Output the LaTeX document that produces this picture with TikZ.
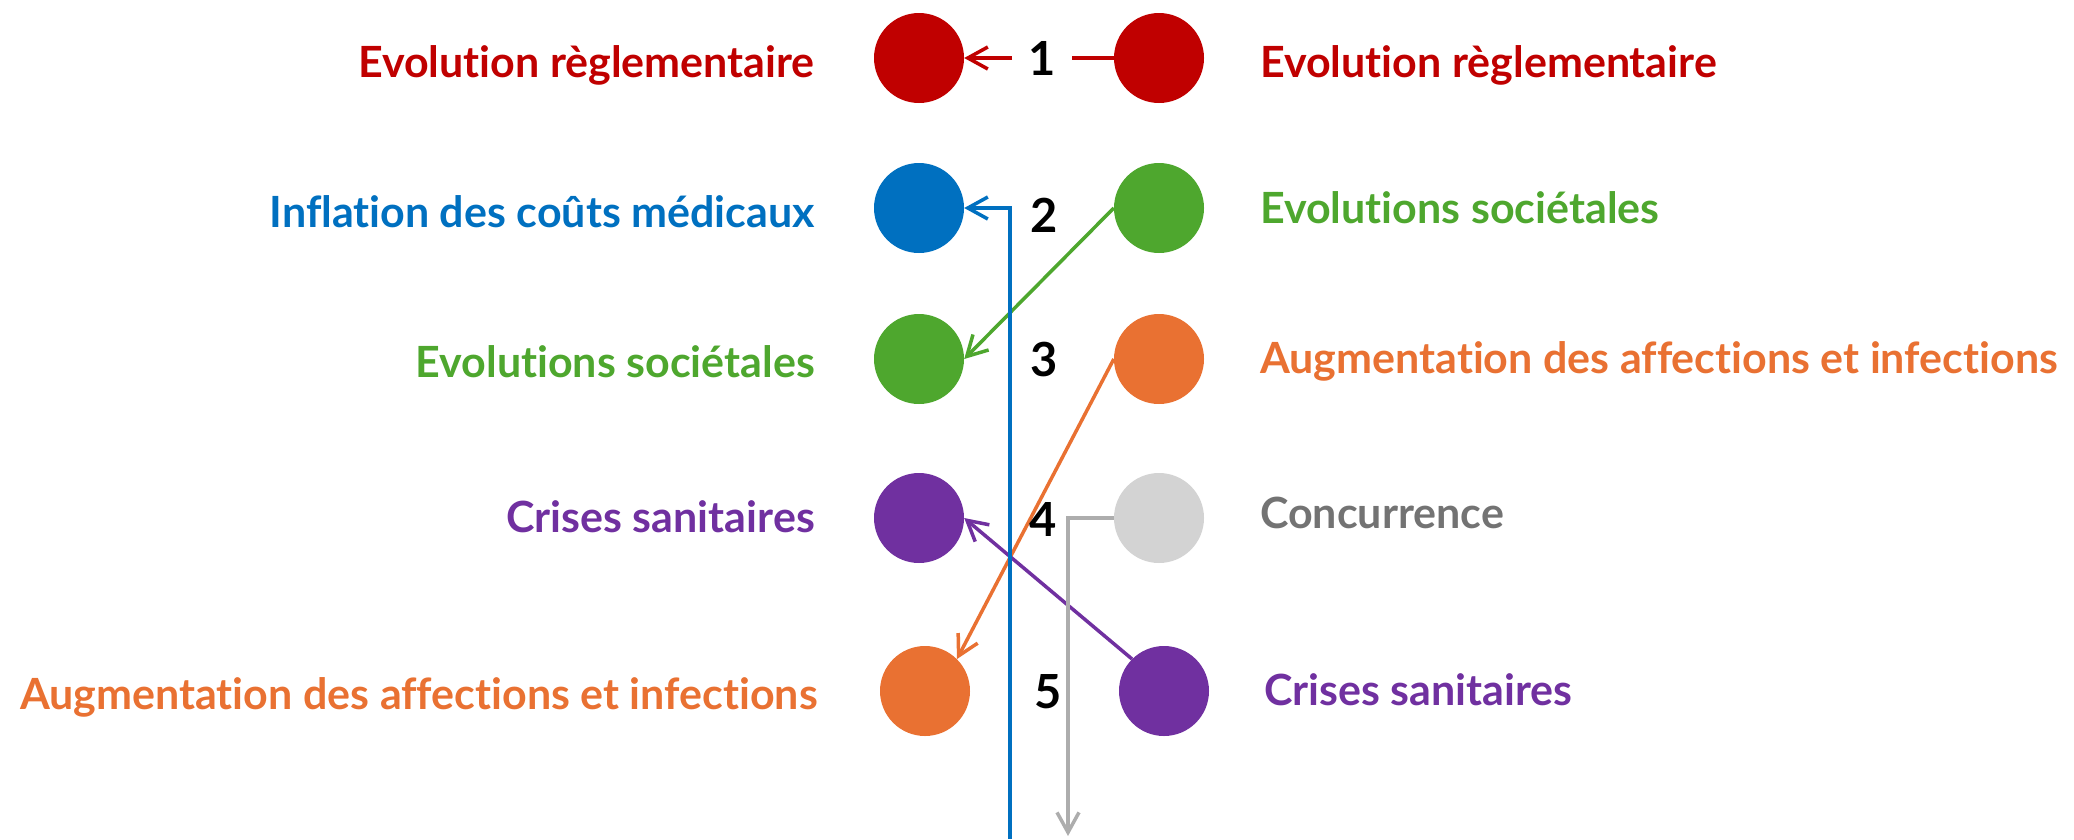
\documentclass[tikz,border=0pt]{standalone}
\usepackage{fontspec}
\setmainfont{Lato}[Ligatures={NoCommon}]
\usetikzlibrary{arrows.meta}
\tikzset{% change default arrow tips
    >={Straight Barb[length=20pt,width=22pt]}
}
\definecolor{rouge}{HTML}{C00000}
\definecolor{bleu}{HTML}{0070C0}
\definecolor{vert}{HTML}{4EA72E}
\definecolor{orange}{HTML}{E97132}
\definecolor{violet}{HTML}{7030A0}
\definecolor{grisdot}{HTML}{D3D3D3}
\definecolor{grisfil}{HTML}{ADADAD}
\definecolor{gristxt}{HTML}{737373}

\begin{document}
\begin{tikzpicture}[x=1pt,y=-1pt]
    \newcommand{\colL}{919}
    \newcommand{\colR}{1159}
    \newcommand{\txtL}{815}
    \newcommand{\txtR}{1260}
    \newcommand{\rad}{45pt} % radius of the dots

    % styles of the dots, labels and links
    \tikzset{
        dot/.style={circle, minimum size=2*\rad, inner sep=0pt, fill=#1},
        lbl/.style={text=#1, font=\fontsize{43}{50}\selectfont\bfseries, inner sep=0pt},
        num/.style={font=\fontsize{47}{54}\selectfont\bfseries, inner sep=0pt},
        link/.style={draw=#1, line width=3.5pt, ->}
    }

    \useasboundingbox (0,0) rectangle (2074,839);

    % dots, left column
    \node[dot=rouge] (l1) at (\colL,58) {};
    \node[dot=bleu] (l2) at (\colL,208) {};
    \node[dot=vert] (l3) at (\colL,359) {};
    \node[dot=violet] (l4) at (\colL,518) {};
    \node[dot=orange] (l5) at (925,691) {};

    % dots, right column
    \node[dot=rouge] (r1) at (\colR,58) {};
    \node[dot=vert] (r2) at (\colR,208) {};
    \node[dot=orange] (r3) at (\colR,359) {};
    \node[dot=grisdot] (r4) at (\colR,518) {};
    \node[dot=violet] (r5) at (1164,691) {};

    % labels
    \node[lbl=rouge, anchor=base east] (t1) at (\txtL,77) {Evolution règlementaire};
    \node[lbl=bleu, anchor=base east] (t2) at (\txtL,227) {Inflation des coûts médicaux};
    \node[lbl=vert, anchor=base east] (t3) at (\txtL,377) {Evolutions sociétales};
    \node[lbl=violet, anchor=base east] (t4) at (\txtL,532) {Crises sanitaires};
    \node[lbl=orange, anchor=base east] (t5) at (818,709) {Augmentation des affections et infections};

    \node[lbl=rouge, anchor=base west] (s1) at (\txtR,77) {Evolution règlementaire};
    \node[lbl=vert, anchor=base west] (s2) at (\txtR,223) {Evolutions sociétales};
    \node[lbl=orange, anchor=base west] (s3) at (\txtR,373) {Augmentation des affections et infections};
    \node[lbl=gristxt, anchor=base west] (s4) at (\txtR,528) {Concurrence};
    \node[lbl=violet, anchor=base west] (s5) at (1264,705) {Crises sanitaires};

    % ranks
    \node[num, inner xsep=16pt, fill=white] (n1) at (1042,58) {1};
    \node[num] (n2) at (1044,215) {2};
    \node[num] (n3) at (1044,360) {3};

    % links
    \draw[link=rouge, -] (r1) -- (n1);
    \draw[link=rouge] (n1) -- (l1);
    \draw[link=vert] (r2.west) -- (l3.east);
    \draw[link=orange] (r3.west) -- (l5.north east);
    \draw[link=violet] (r5.north west) -- (l4.east);
    \coordinate (gbot) at (1068,836);
    \draw[link=grisfil] (r4) -| (gbot);
    \coordinate (bbot) at (1010,839);
    \draw[link=bleu] (bbot) |- (l2);

    \node[num] (n4) at (1043,519) {4};
    \node[num] (n5) at (1048,692) {5};
\end{tikzpicture}
\end{document}
